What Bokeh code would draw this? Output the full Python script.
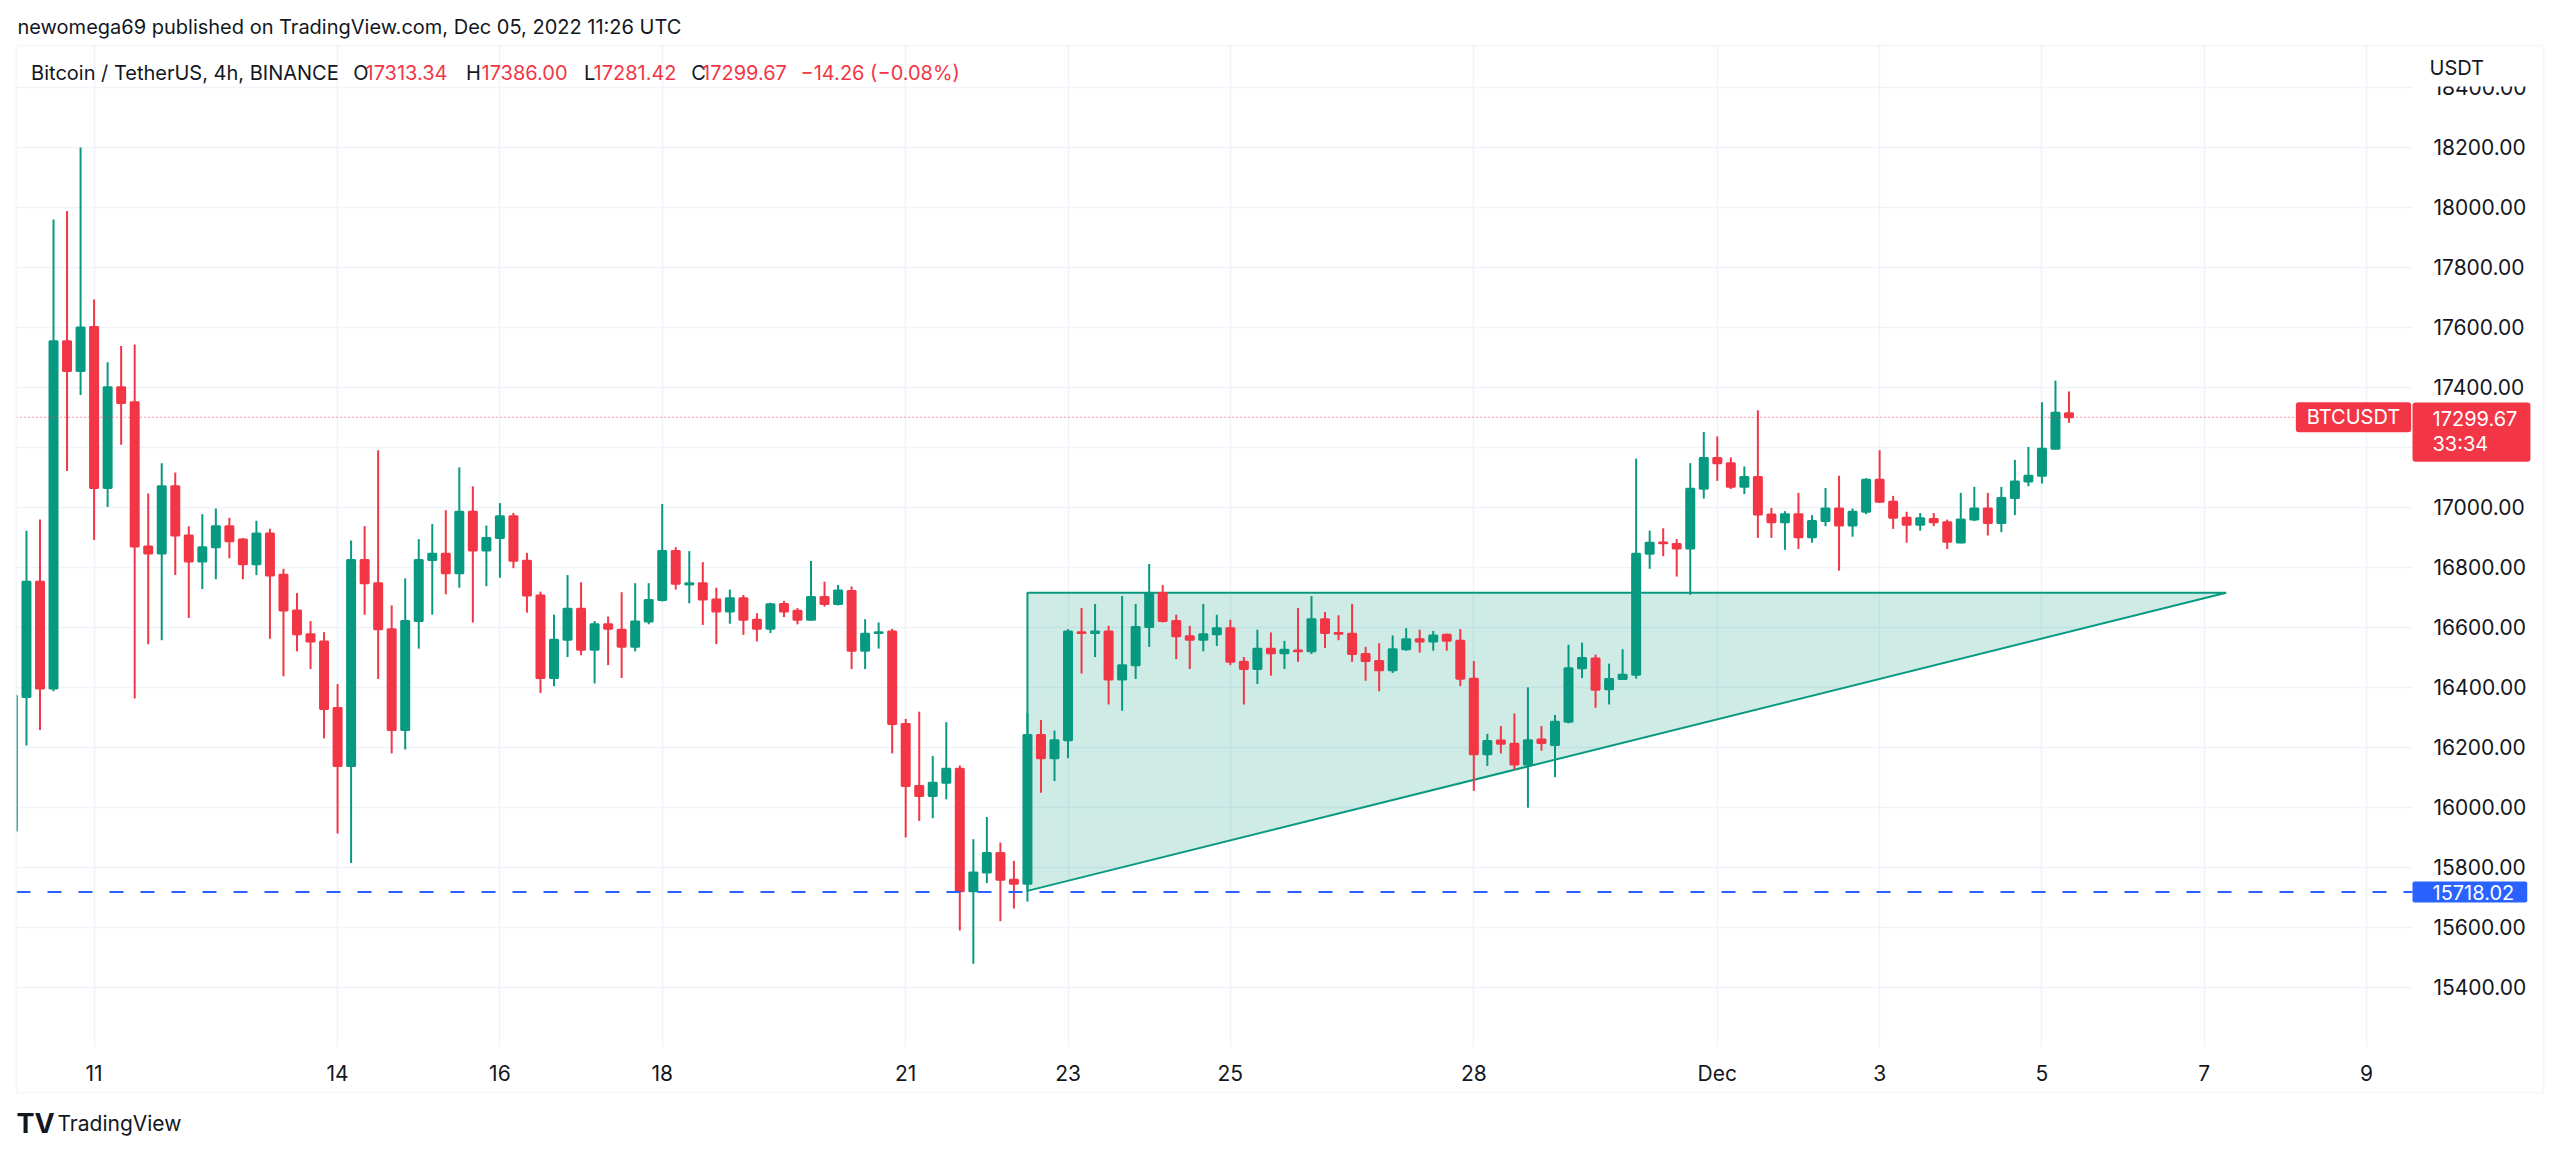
from bokeh.plotting import figure
from bokeh.models import (ColumnDataSource, FixedTicker, NumeralTickFormatter,
                          Label, BoxAnnotation, Range1d)
from bokeh.embed import file_html
from bokeh.resources import INLINE

# ---------------- data (BTCUSDT, 4h candles from 2022-11-10 00:00 UTC) ----------------
opens = [15922, 16368, 16752, 16396, 17553, 17454, 17601, 17064, 17400, 17350,
         16869, 16846, 17070, 16906, 16819, 16867, 16937, 16893, 16810, 16913,
         16775, 16656, 16577, 16553, 16331, 16138, 16824, 16747, 16594, 16258,
         16621, 16824, 16845, 16780, 16985, 16856, 16898, 16970, 16822, 16706,
         16431, 16559, 16662, 16525, 16610, 16592, 16535, 16619, 16691, 16854,
         16743, 16747, 16693, 16653, 16697, 16625, 16595, 16678, 16655, 16625,
         16701, 16678, 16721, 16522, 16581, 16586, 16278, 16071, 16038, 16082,
         16129, 15721, 15783, 15848, 15759, 15746, 16241, 16164, 16224, 16584,
         16581, 16586, 16426, 16474, 16601, 16714, 16621, 16570, 16559, 16577,
         16597, 16485, 16461, 16529, 16514, 16523, 16520, 16627, 16581, 16579,
         16511, 16488, 16457, 16527, 16560, 16553, 16575, 16555, 16429, 16177,
         16223, 16212, 16143, 16226, 16208, 16285, 16464, 16496, 16394, 16428,
         16442, 16845, 16883, 16878, 16863, 17062, 17164, 17147, 17068, 17101,
         16976, 16950, 16977, 16900, 16954, 16996, 16939, 16985, 17092, 17018,
         16965, 16942, 16961, 16950, 16883, 16959, 16996, 16948, 17031, 17086,
         17105, 17195, 17313.34]
highs = [16400, 16922, 16959, 17959, 17987, 18199, 17692, 17483, 17537, 17542,
         17046, 17147, 17116, 16937, 16977, 16996, 16965, 16898, 16955, 16928,
         16795, 16714, 16621, 16584, 16411, 16889, 16937, 17190, 16673, 16763,
         16894, 16944, 16990, 17133, 17070, 16939, 17014, 16981, 16848, 16719,
         16642, 16774, 16750, 16621, 16636, 16717, 16747, 16747, 17011, 16867,
         16854, 16817, 16732, 16726, 16708, 16647, 16682, 16688, 16664, 16821,
         16752, 16741, 16736, 16627, 16616, 16595, 16295, 16319, 16171, 16284,
         16140, 15894, 15968, 15883, 15822, 16315, 16291, 16256, 16594, 16664,
         16678, 16605, 16704, 16678, 16811, 16741, 16642, 16605, 16678, 16642,
         16625, 16501, 16592, 16583, 16555, 16664, 16704, 16651, 16640, 16678,
         16535, 16547, 16573, 16597, 16592, 16588, 16579, 16594, 16488, 16245,
         16271, 16313, 16400, 16271, 16308, 16542, 16549, 16509, 16479, 16527,
         17162, 16922, 16930, 16894, 17147, 17251, 17236, 17166, 17136, 17323,
         16998, 16987, 17048, 16974, 17064, 17105, 16996, 17097, 17190, 17038,
         16985, 16981, 16981, 16959, 17048, 17068, 17048, 17068, 17158, 17201,
         17350, 17422, 17386.00]
lows = [15880, 16206, 16258, 16387, 17121, 17374, 16891, 17001, 17208, 16363,
        16544, 16557, 16774, 16631, 16728, 16760, 16830, 16760, 16774, 16562,
        16437, 16520, 16461, 16230, 15913, 15815, 16642, 16428, 16180, 16193,
        16529, 16642, 16710, 16732, 16616, 16737, 16765, 16797, 16649, 16381,
        16404, 16501, 16507, 16413, 16474, 16431, 16520, 16610, 16686, 16726,
        16680, 16608, 16544, 16612, 16575, 16553, 16581, 16634, 16610, 16623,
        16669, 16673, 16461, 16461, 16529, 16180, 15900, 15955, 15964, 16027,
        15590, 15479, 15748, 15621, 15663, 15686, 16049, 16088, 16164, 16446,
        16501, 16343, 16322, 16428, 16535, 16616, 16494, 16461, 16520, 16538,
        16474, 16343, 16411, 16439, 16461, 16485, 16511, 16531, 16557, 16485,
        16422, 16387, 16448, 16522, 16516, 16522, 16522, 16404, 16055, 16138,
        16180, 16125, 15999, 16189, 16101, 16280, 16431, 16332, 16343, 16428,
        16429, 16795, 16837, 16769, 16708, 17029, 17088, 17061, 17044, 16898,
        16898, 16858, 16861, 16882, 16937, 16789, 16902, 16977, 17014, 16928,
        16882, 16922, 16937, 16861, 16880, 16954, 16906, 16917, 16974, 17070,
        17079, 17193, 17281.42]
closes = [16372, 16752, 16396, 17553, 17454, 17599, 17064, 17400, 17347, 16869,
          16846, 17070, 16906, 16819, 16867, 16937, 16887, 16810, 16913, 16773,
          16656, 16577, 16553, 16328, 16138, 16824, 16747, 16594, 16258, 16621,
          16824, 16845, 16780, 16985, 16856, 16898, 16970, 16822, 16706, 16431,
          16559, 16662, 16525, 16610, 16595, 16535, 16619, 16691, 16854, 16745,
          16747, 16693, 16653, 16697, 16625, 16595, 16677, 16653, 16625, 16701,
          16678, 16723, 16522, 16579, 16584, 16278, 16071, 16038, 16082, 16129,
          15721, 15783, 15848, 15759, 15746, 16241, 16164, 16224, 16586, 16581,
          16586, 16426, 16474, 16601, 16714, 16621, 16570, 16559, 16577, 16597,
          16485, 16461, 16529, 16514, 16525, 16520, 16627, 16581, 16579, 16511,
          16488, 16457, 16527, 16560, 16553, 16573, 16555, 16429, 16177, 16221,
          16212, 16143, 16224, 16215, 16285, 16464, 16498, 16392, 16428, 16442,
          16845, 16882, 16880, 16863, 17062, 17164, 17147, 17068, 17101, 16976,
          16950, 16977, 16900, 16954, 16996, 16939, 16985, 17092, 17018, 16965,
          16942, 16963, 16950, 16885, 16959, 16996, 16948, 17031, 17086, 17105,
          17195, 17315, 17299.67]

start_day = 10.0          # x axis in days of November (Dec 1 = 31)
step_days = 4.0 / 24.0    # 4h candles

date_ticks = [11, 14, 16, 18, 21, 23, 25, 28, 31, 33, 35, 37, 39]
date_labels = ["11", "14", "16", "18", "21", "23", "25", "28", "Dec", "3", "5", "7", "9"]
price_ticks = list(range(15400, 18401, 200))

last_price = 17299.67
support_price = 15718.02
tri_x = [22.5, 22.5, 37.27]
tri_y = [16715, 15722, 16715]

header = "newomega69 published on TradingView.com, Dec 05, 2022 11:26 UTC"
symbol = "Bitcoin / TetherUS, 4h, BINANCE"
ohlc_labels = ["O", "H", "L", "C"]
ohlc_values = ["17313.34", "17386.00", "17281.42", "17299.67"]
change_text = "\u221214.26 (\u22120.08%)"
countdown = "33:34"

# ---------------- styling / layout ----------------
GREEN = "#089981"
RED = "#F23645"
BLUE = "#2962FF"
TXT = "#131722"
GRID = "#f0f3fa"
BORDER = "#e0e3eb"
FONT = "Inter"

W, H = 2550, 1150                 # canvas = frame
PX_PER_DAY = 81.16
PX_PER_USD = 0.30014
X0 = 9.84672                      # day at canvas left
Y_TOP = 18688.44                  # price at canvas top
CH_L, CH_R, CH_T, CH_B = 16, 2412, 45, 1046   # chart pane (px)
BOX_R, BOX_B = 2543, 1092                      # outer border (px)

def day_at(px):
    return X0 + px / PX_PER_DAY

def price_at(py):
    return Y_TOP - py / PX_PER_USD

def sy(py):           # page y -> screen y (from bottom)
    return H - py

xs = [start_day + i * step_days for i in range(len(opens))]
colors = [GREEN if c >= o else RED for o, c in zip(opens, closes)]
tops = [max(o, c) for o, c in zip(opens, closes)]
bottoms = [min(o, c) for o, c in zip(opens, closes)]
src = ColumnDataSource(dict(x=xs, top=tops, bottom=bottoms, high=highs, low=lows, color=colors))

p = figure(frame_width=W, frame_height=H,
           x_range=Range1d(day_at(0), day_at(W)), y_range=Range1d(price_at(H), Y_TOP),
           y_axis_location="right", output_backend="svg", toolbar_location=None,
           min_border=0, min_border_left=0, min_border_right=0,
           min_border_top=0, min_border_bottom=0)
p.background_fill_color = "white"
p.border_fill_color = "white"
p.outline_line_color = None

# grid
p.xgrid.grid_line_color = GRID
p.xgrid.grid_line_width = 1.5
p.ygrid.grid_line_color = GRID
p.ygrid.grid_line_width = 1.5

# axes, pinned to the pane edges
p.xaxis.ticker = FixedTicker(ticks=date_ticks)
p.xaxis.major_label_overrides = {t: l for t, l in zip(date_ticks, date_labels)}
p.xaxis.fixed_location = price_at(CH_B)
p.yaxis.ticker = FixedTicker(ticks=price_ticks)
p.yaxis.formatter = NumeralTickFormatter(format="0.00")
p.yaxis.fixed_location = day_at(CH_R)
for ax in (p.xaxis, p.yaxis):
    ax.axis_line_color = None
    ax.major_tick_line_color = None
    ax.minor_tick_line_color = None
    ax.major_tick_out = 0
    ax.major_tick_in = 0
    ax.major_label_text_font = FONT
    ax.major_label_text_font_size = "21px"
    ax.major_label_text_color = TXT
p.yaxis.major_label_standoff = 21
p.xaxis.major_label_standoff = 14

def sbox(left, right, bottom, top, level="underlay", **kw):
    p.add_layout(BoxAnnotation(left=left, right=right, bottom=bottom, top=top,
                               left_units="screen", right_units="screen",
                               top_units="screen", bottom_units="screen",
                               level=level, **kw))

# keep grid inside the pane
sbox(0, W, sy(CH_T), H, fill_color="white", fill_alpha=1, line_alpha=0)
sbox(0, W, 0, sy(CH_B), fill_color="white", fill_alpha=1, line_alpha=0)
sbox(CH_R, W, 0, H, fill_color="white", fill_alpha=1, line_alpha=0)

# triangle drawing
p.patch(tri_x, tri_y, fill_color=GREEN, fill_alpha=0.2, line_color=GREEN, line_width=2)

# candles
p.segment(x0="x", y0="high", x1="x", y1="low", line_color="color", line_width=2, source=src)
p.vbar(x="x", width=8 / PX_PER_DAY, top="top", bottom="bottom", fill_color="color",
       line_color="color", line_width=2, source=src)

# horizontal price lines across the pane
p.segment(x0=[day_at(CH_L)], y0=[support_price], x1=[day_at(CH_R)], y1=[support_price],
          line_color=BLUE, line_width=2, line_dash="14 17")
p.segment(x0=[day_at(CH_L)], y0=[last_price], x1=[day_at(CH_R)], y1=[last_price],
          line_color=RED, line_width=1, line_dash="1 3")

# clip left of pane, mask top of price scale, outer border
sbox(0, CH_L, 0, H, level="annotation", fill_color="white", fill_alpha=1, line_alpha=0)
sbox(CH_R + 1, BOX_R - 1, sy(86), sy(CH_T + 1), level="annotation",
     fill_color="white", fill_alpha=1, line_alpha=0)
sbox(CH_L, BOX_R, sy(BOX_B), sy(CH_T), level="annotation",
     fill_alpha=0, line_color=BORDER, line_width=2)

def lab(x, y, text, color=TXT, size="20px", align="left", baseline="middle",
        y_units="screen", **kw):
    p.add_layout(Label(x=x, y=y, x_units="screen", y_units=y_units, text=text,
                       text_font=FONT, text_font_size=size, text_color=color,
                       text_align=align, text_baseline=baseline, **kw))

# header / legend
lab(17, sy(26), header)
lab(30.6, sy(72), symbol)
for name, val, xn, xv in zip(ohlc_labels, ohlc_values,
                             [352.7, 465.6, 583.5, 690.7], [365, 481, 593, 701.5]):
    lab(xn, sy(72), name)
    lab(xv, sy(72), val, color=RED)
lab(800, sy(72), change_text, color=RED)

# price scale unit
lab(2429, sy(67), "USDT")

# last price markers (box anchor = box edge, padding inside)
lab(2353, last_price, "BTCUSDT", color="white", align="center", y_units="data",
    background_fill_color=RED, padding=dict(left=11, right=11, top=3, bottom=3),
    border_radius=3)
lab(CH_R, sy(402), f"{last_price:.2f}\n{countdown}", color="white", baseline="top",
    text_line_height=1.05, background_fill_color=RED,
    padding=dict(left=20, right=13, top=4, bottom=6), border_radius=3)
lab(CH_R, support_price, f"{support_price:.2f}", color="white", y_units="data",
    background_fill_color=BLUE, padding=dict(left=20, right=13, top=3, bottom=3),
    border_radius=2)

# footer
lab(16, sy(1123), "TV", size="27px", text_font_style="bold")
lab(57, sy(1123), "TradingView", size="21px")

open("out.html", "w").write(file_html(p, INLINE))
